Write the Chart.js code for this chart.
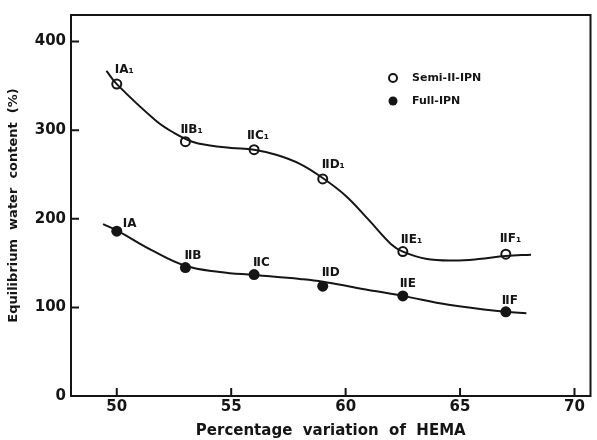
<!DOCTYPE html>
<html>
<head>
<meta charset="utf-8">
<script src="https://cdn.jsdelivr.net/npm/chart.js@4.4.1/dist/chart.umd.min.js"></script>
<style>
  html, body { margin: 0; padding: 0; background: #fff; }
  #wrap { width: 597px; height: 440px; }
</style>
</head>
<body>
<div id="wrap"><canvas id="hemaChart"></canvas></div>
<script>
// measured points
const hema = [50, 53, 56, 59, 62.5, 67];
const semiWater = [352, 287, 278, 245, 163, 160];
const fullWater = [186, 145, 137, 124, 113, 95];
const semiNames = ['IA\u2081', '\u2161B\u2081', '\u2161C\u2081', '\u2161D\u2081', '\u2161E\u2081', '\u2161F\u2081'];
const fullNames = ['IA', '\u2161B', '\u2161C', '\u2161D', '\u2161E', '\u2161F'];
const seriesNames = ['Semi-II-IPN', 'Full-IPN'];

// hand drawn fitting curves
const semiCurveX = [49.55, 50, 51.7, 52.5, 53.3, 54, 55, 56, 57, 58, 59, 60, 61, 62, 62.5, 63.5, 64.7, 65.8, 67, 68.1];
const semiCurveY = [367, 352, 311, 297, 287, 283, 280, 278, 272, 262, 246, 226, 199, 171, 163, 155, 153, 154.5, 158, 159.5];
const fullCurveX = [49.4, 50, 51.5, 53, 54.5, 56, 58, 59, 60.5, 62.5, 64.5, 67, 67.9];
const fullCurveY = [194, 187, 165, 147, 140, 136.5, 132, 129, 122, 113, 103, 95, 93.5];

const xTicks = [50, 55, 60, 65, 70];
const yTicks = [0, 100, 200, 300, 400];

const ink = '#151515';
Chart.defaults.font.family = 'DejaVu Sans';
Chart.defaults.color = ink;

const xy = (xs, ys) => xs.map((v, i) => ({ x: v, y: ys[i] }));

// label offsets from the point centre (px)
const semiOffsets = [[-2, -14], [-5, -12], [-7, -14], [-1, -14], [-2, -12], [-6, -15]];
const fullOffsets = [[6, -7], [-1, -12], [-1, -12], [-1, -13], [-3, -12], [-4, -11]];

const frame = {
    id: 'frame',
    afterDraw(chart) {
        const { ctx, chartArea: a, scales: { x, y } } = chart;
        ctx.save();
        ctx.strokeStyle = ink;
        ctx.lineWidth = 2;
        ctx.strokeRect(a.left, a.top, a.width, a.height);
        ctx.beginPath();
        xTicks.forEach(v => {
            const px = x.getPixelForValue(v);
            ctx.moveTo(px, a.bottom);
            ctx.lineTo(px, a.bottom - 8);
        });
        yTicks.forEach(v => {
            const py = y.getPixelForValue(v);
            ctx.moveTo(a.left, py);
            ctx.lineTo(a.left + 8, py);
        });
        ctx.stroke();

        // point names
        ctx.fillStyle = ink;
        ctx.font = 'bold 12px "DejaVu Sans"';
        ctx.textBaseline = 'middle';
        ctx.textAlign = 'left';
        hema.forEach((v, i) => {
            const px = x.getPixelForValue(v);
            ctx.fillText(semiNames[i], px + semiOffsets[i][0], y.getPixelForValue(semiWater[i]) + semiOffsets[i][1]);
            ctx.fillText(fullNames[i], px + fullOffsets[i][0], y.getPixelForValue(fullWater[i]) + fullOffsets[i][1]);
        });

        // legend
        ctx.font = 'bold 11px "DejaVu Sans"';
        ctx.lineWidth = 2;
        ctx.beginPath();
        ctx.arc(393, 78, 4, 0, Math.PI * 2);
        ctx.fillStyle = '#fff';
        ctx.fill();
        ctx.stroke();
        ctx.beginPath();
        ctx.arc(393, 101, 4.5, 0, Math.PI * 2);
        ctx.fillStyle = ink;
        ctx.fill();
        ctx.fillText(seriesNames[0], 412, 78);
        ctx.fillText(seriesNames[1], 412, 101);
        ctx.restore();
    }
};

new Chart(document.getElementById('hemaChart'), {
    type: 'scatter',
    data: {
        datasets: [{
            data: xy(semiCurveX, semiCurveY),
            showLine: true,
            borderColor: ink,
            borderWidth: 2,
            pointRadius: 0,
            tension: 0.4
        }, {
            data: xy(fullCurveX, fullCurveY),
            showLine: true,
            borderColor: ink,
            borderWidth: 2,
            pointRadius: 0,
            tension: 0.4
        }, {
            label: seriesNames[0],
            data: xy(hema, semiWater),
            pointRadius: 4.5,
            pointBorderWidth: 2,
            pointBackgroundColor: '#fff',
            pointBorderColor: ink
        }, {
            label: seriesNames[1],
            data: xy(hema, fullWater),
            pointRadius: 5.5,
            pointBorderWidth: 0,
            pointBackgroundColor: ink,
            pointBorderColor: ink
        }]
    },
    options: {
        responsive: true,
        maintainAspectRatio: false,
        animation: false,
        layout: {
            padding: { top: 15, right: 4, left: 0, bottom: 0 }
        },
        plugins: {
            legend: { display: false },
            tooltip: { enabled: false }
        },
        scales: {
            x: {
                type: 'linear',
                min: 48,
                max: 70.7,
                afterBuildTicks: s => { s.ticks = xTicks.map(v => ({ value: v })); },
                afterFit: s => { s.height = 44; },
                grid: { display: false, drawTicks: false },
                border: { display: false },
                ticks: { font: { size: 15, weight: 'bold' }, color: ink, padding: 2, maxRotation: 0, autoSkip: false },
                title: {
                    display: true,
                    text: 'Percentage  variation  of  HEMA',
                    font: { size: 15, weight: 'bold' },
                    color: ink,
                    padding: { top: 0, bottom: 0 }
                }
            },
            y: {
                min: 0,
                max: 430,
                afterBuildTicks: s => { s.ticks = yTicks.map(v => ({ value: v })); },
                afterFit: s => { s.width = 71; },
                grid: { display: false, drawTicks: false },
                border: { display: false },
                ticks: { font: { size: 15, weight: 'bold' }, color: ink, padding: 5 },
                title: {
                    display: true,
                    text: 'Equilibrium  water  content  (%)',
                    font: { size: 13, weight: 'bold' },
                    color: ink,
                    padding: { top: 6, bottom: 0 }
                }
            }
        }
    },
    plugins: [frame]
});
</script>
</body>
</html>
